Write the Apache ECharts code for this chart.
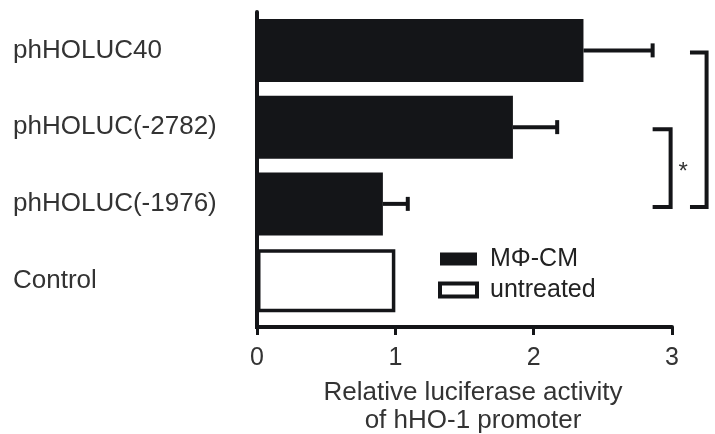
<!DOCTYPE html>
<html>
<head>
<meta charset="utf-8">
<script src="https://cdn.jsdelivr.net/npm/echarts@6/dist/echarts.min.js"></script>
<style>html,body{margin:0;padding:0;background:#fff;overflow:hidden;}#c{width:715px;height:434px;}</style>
</head>
<body>
<div id="c"></div>
<script>
// ---- data ----
const categories = ['phHOLUC40', 'phHOLUC(-2782)', 'phHOLUC(-1976)', 'Control'];
const treatedValues = [2.36, 1.85, 0.91, '-'];
const untreatedValues = ['-', '-', '-', 1.0];
const errorUpper = [2.86, 2.17, 1.09, null];
const xTicks = [0, 1, 2, 3];
// brackets: [arm end x, vertical x, from category index, to category index]
const brackets = [[2.86, 2.99, 1, 2], [3.13, 3.25, 0, 2]];
// significance mark: [x, between category a, and category b, text]
const starMark = [[3.08, 1, 2, '*']];

const FONT = "'Liberation Sans', Arial, sans-serif";
const INK = '#141518';
const GRID_TOP = 12, GRID_H = 307;

const errorData = [];
treatedValues.forEach((v, i) => { if (errorUpper[i] != null) errorData.push([v, errorUpper[i], i]); });

const chart = echarts.init(document.getElementById('c'), null, {renderer: 'canvas'});
chart.setOption({
  animation: false,
  backgroundColor: '#fff',
  grid: {left: 257, width: 415, top: GRID_TOP, height: GRID_H, containLabel: false, outerBoundsMode: 'none'},
  legend: {
    orient: 'vertical', left: 438, top: 246, padding: 0,
    itemWidth: 37, itemHeight: 13, itemGap: 5,
    icon: 'rect',
    data: [{name: 'MΦ-CM'}, {name: 'untreated', itemStyle: {borderWidth: 4, borderColor: INK, color: '#fff'}}],
    textStyle: {fontFamily: FONT, fontSize: 25, color: '#222', lineHeight: 26, padding: [0, 0, 0, 8]}
  },
  xAxis: {
    type: 'value', min: xTicks[0], max: xTicks[xTicks.length - 1], interval: 1,
    offset: 8,
    axisLine: {show: true, lineStyle: {color: INK, width: 4}},
    axisTick: {show: true, length: 8, lineStyle: {color: INK, width: 3}},
    axisLabel: {fontFamily: FONT, fontSize: 25, color: '#333', margin: 19},
    splitLine: {show: false},
    name: 'Relative luciferase activity\nof hHO-1 promoter',
    nameLocation: 'middle', nameGap: 52,
    nameTextStyle: {fontFamily: FONT, fontSize: 26, color: '#333', lineHeight: 28, padding: [0, 0, 0, 17]}
  },
  yAxis: {
    type: 'category', data: categories, inverse: true,
    axisLine: {show: true, lineStyle: {color: INK, width: 4}},
    axisTick: {show: false},
    axisLabel: {fontFamily: FONT, fontSize: 26, color: '#333', align: 'left', margin: 244}
  },
  series: [
    {
      name: 'MΦ-CM', type: 'bar', stack: 's', data: treatedValues, barWidth: 63,
      itemStyle: {color: INK}
    },
    {
      name: 'untreated', type: 'bar', stack: 's', data: untreatedValues,
      itemStyle: {color: '#fff', borderColor: INK, borderWidth: 3.5}
    },
    {
      type: 'custom', clip: false, silent: true, z: 5,
      data: errorData,
      encode: {x: [0, 1], y: 2},
      renderItem: function (params, api) {
        const a = api.coord([api.value(0), api.value(2)]);
        const b = api.coord([api.value(1), api.value(2)]);
        const style = {stroke: INK, lineWidth: 4, lineCap: 'butt'};
        return {type: 'group', children: [
          {type: 'line', shape: {x1: a[0], y1: a[1], x2: b[0], y2: b[1]}, style: style},
          {type: 'line', shape: {x1: b[0], y1: b[1] - 7, x2: b[0], y2: b[1] + 7}, style: style}
        ]};
      }
    },
    {
      type: 'custom', clip: false, silent: true, z: 5,
      data: brackets,
      encode: {x: [0, 1], y: [2, 3]},
      renderItem: function (params, api) {
        const p1 = api.coord([api.value(0), api.value(2)]);
        const p2 = api.coord([api.value(1), api.value(2)]);
        const p3 = api.coord([api.value(1), api.value(3)]);
        const p4 = api.coord([api.value(0), api.value(3)]);
        return {type: 'polyline',
          shape: {points: [[p1[0], p1[1] + 2], [p2[0], p2[1] + 2], [p3[0], p3[1] + 3], [p4[0], p4[1] + 3]]},
          style: {stroke: INK, lineWidth: 4, fill: null, lineJoin: 'miter'}};
      }
    },
    {
      type: 'custom', clip: false, silent: true, z: 5,
      data: starMark.map(d => [d[0], d[1], d[2]]),
      encode: {x: 0, y: [1, 2]},
      renderItem: function (params, api) {
        const a = api.coord([api.value(0), api.value(1)]);
        const b = api.coord([api.value(0), api.value(2)]);
        return {type: 'text', style: {x: a[0], y: (a[1] + b[1]) / 2 + 7, text: starMark[params.dataIndex][3],
          fontFamily: FONT, fontSize: 24, fill: '#333', align: 'center', verticalAlign: 'middle'}};
      }
    }
  ]
});
// extend the y-axis line down to the offset x-axis
const x0 = chart.convertToPixel({xAxisIndex: 0}, 0);
const yb = GRID_TOP + GRID_H;
chart.setOption({graphic: [{type: 'line', shape: {x1: x0, y1: yb - 2, x2: x0, y2: yb + 10},
  style: {stroke: INK, lineWidth: 4}, z: 10}]});
</script>
</body>
</html>
